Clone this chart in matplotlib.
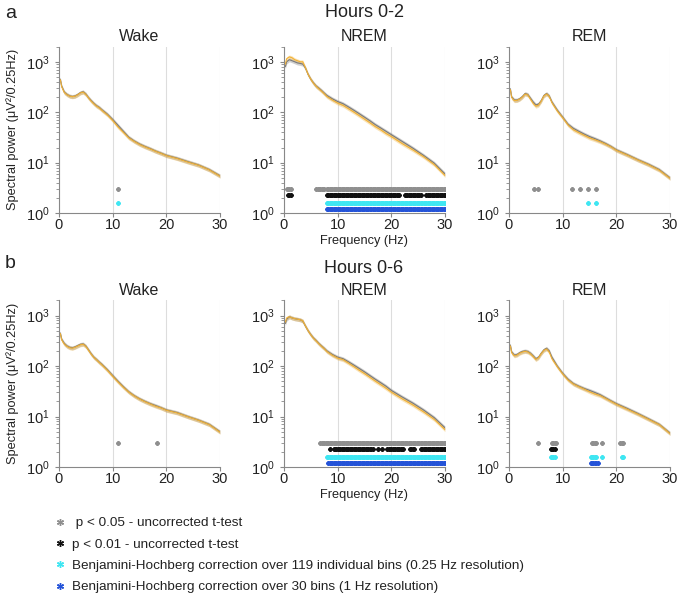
import numpy as np
import matplotlib
matplotlib.use('Agg')
import matplotlib.pyplot as plt
from matplotlib.lines import Line2D

plt.rcParams['font.family'] = ['Liberation Sans', 'DejaVu Sans']

# frequency grid (Hz) that the spectra were read at
freq = [0.25, 0.5, 1, 1.5, 2, 2.5, 3, 3.5, 4, 4.5, 5, 5.5, 6, 6.5, 7, 7.5, 8,
        9, 10, 11, 12, 13, 14, 15, 16, 17, 18, 19, 20, 22, 24, 26, 28, 30]

# Hours 0-2 spectra (gray = control, orange = treatment)
wake_a_ctl = [450, 330, 250, 225, 210, 205, 210, 225, 245, 255, 230, 195, 170, 150, 135, 125, 112,
              92, 72, 55, 42, 32, 27, 23.5, 21, 19, 17, 15.5, 14, 12.3, 10.5, 9, 7.3, 5.5]
wake_a_trt = [440, 320, 245, 222, 208, 203, 208, 222, 242, 250, 226, 192, 166, 147, 132, 122, 109,
              89, 69, 51, 40, 31, 26.5, 23, 20.6, 18.7, 16.8, 15.3, 13.8, 12.1, 10.3, 8.9, 7.2, 5.4]
nrem_a_ctl = [800, 1000, 1100, 1050, 1000, 950, 930, 900, 750, 560, 450, 380, 330, 300, 270, 240, 215,
              185, 163, 148, 128, 110, 94, 80, 68, 57, 49, 42, 36, 26.5, 19.5, 14, 9.8, 6]
nrem_a_trt = [900, 1150, 1250, 1200, 1100, 1050, 1000, 1000, 760, 560, 450, 375, 325, 292, 262, 233, 205,
              175, 152, 137, 118, 101, 86, 73, 62, 52, 45, 38, 33, 24, 18, 13.2, 9.2, 5.6]
rem_a_ctl = [290, 200, 175, 175, 185, 205, 235, 225, 190, 160, 140, 145, 170, 215, 235, 210, 160,
             110, 80, 58, 48, 42, 37, 33, 30, 27, 24, 21, 18, 14.5, 11.5, 9.3, 7.3, 5]
rem_a_trt = [280, 195, 170, 172, 182, 200, 230, 220, 182, 150, 132, 138, 166, 210, 230, 205, 155,
             106, 78, 56, 45, 39.5, 35, 31, 28.5, 26, 23.3, 20.6, 17.6, 14.2, 11.3, 9.1, 7.1, 4.9]

# Hours 0-6 spectra
wake_b_ctl = [450, 340, 280, 250, 235, 230, 240, 255, 270, 275, 250, 210, 175, 150, 135, 120, 108,
              85, 65, 50, 39, 31, 26, 22.5, 20, 18, 16.5, 15, 13.5, 12, 10, 8.5, 7, 5]
wake_b_trt = [440, 330, 272, 245, 230, 226, 236, 250, 265, 270, 246, 206, 172, 148, 133, 118, 106,
              83, 63, 48.5, 38, 30.5, 25.6, 22.2, 19.7, 17.7, 16, 14.8, 13.3, 11.8, 9.9, 8.4, 6.9, 4.9]
nrem_b_ctl = [700, 850, 950, 900, 870, 850, 830, 780, 620, 500, 420, 360, 320, 280, 250, 225, 200,
              170, 150, 140, 122, 105, 90, 77, 65, 55, 47, 40, 33, 24.5, 18.5, 13.5, 9.5, 6]
nrem_b_trt = [750, 900, 950, 900, 870, 850, 830, 790, 620, 500, 415, 355, 315, 276, 246, 221, 194,
              164, 144, 134, 115, 98, 83, 71, 60, 50.5, 43, 36.5, 30.5, 22.5, 17, 12.4, 8.8, 5.5]
rem_b_ctl = [260, 190, 165, 170, 185, 195, 200, 195, 180, 160, 140, 150, 180, 210, 225, 200, 150,
             100, 72, 55, 45, 40, 36, 33, 30, 27, 23.5, 20.5, 18, 14.5, 11.5, 9, 7, 4.7]
rem_b_trt = [250, 183, 160, 165, 180, 190, 196, 190, 175, 155, 135, 146, 176, 205, 218, 190, 140,
             97, 70, 53, 44, 39, 35, 31, 28, 26, 22.8, 20, 17.5, 14, 11.2, 8.8, 6.9, 4.6]

sem_frac = 0.09  # relative SEM for the shaded bands

# significant bins, as (first, last) frequency runs in 0.25 Hz steps
# order: p<0.05, p<0.01, BH 119 bins, BH 30 bins
sig_wake_a = [[(11, 11)], [], [(11, 11)], []]
sig_nrem_a = [[(0.5, 1.25), (6.0, 7.5), (8.0, 30.0)],
              [(0.75, 1.25), (8.0, 21.5), (22.5, 25.5), (26.5, 30.0)],
              [(8.0, 30.0)], [(8.0, 30.0)]]
sig_rem_a = [[(4.75, 4.75), (5.5, 5.5), (11.75, 11.75), (13.25, 13.25), (14.75, 14.75), (16.25, 16.25)],
             [], [(14.75, 14.75), (16.25, 16.25)], []]
sig_wake_b = [[(11, 11), (18.25, 18.25)], [], [], []]
sig_nrem_b = [[(6.75, 30.0)],
              [(8.5, 8.5), (9.25, 16.5), (17.5, 17.5), (18.25, 18.25), (19.25, 22.25),
               (23.5, 24.25), (25.5, 30.0)],
              [(8.0, 30.0)], [(8.25, 30.0)]]
sig_rem_b = [[(5.5, 5.5), (8.0, 8.75), (15.5, 16.25), (17.25, 17.25), (20.75, 21.25)],
             [(7.75, 8.5)],
             [(7.75, 8.5), (15.25, 16.25), (17.25, 17.25), (21.0, 21.25)],
             [(15.25, 16.5)]]

sig_levels = [3.0, 2.3, 1.6, 1.2]
sig_colors = ['#8f8f8f', '#111111', '#3fe6f2', '#2453d8']
sig_labels = [' p < 0.05 - uncorrected t-test',
              'p < 0.01 - uncorrected t-test',
              'Benjamini-Hochberg correction over 119 individual bins (0.25 Hz resolution)',
              'Benjamini-Hochberg correction over 30 bins (1 Hz resolution)']

col_ctl = '#7a7a7a'
col_trt = '#f2b134'

rows = [
    [('Wake', wake_a_ctl, wake_a_trt, sig_wake_a),
     ('NREM', nrem_a_ctl, nrem_a_trt, sig_nrem_a),
     ('REM', rem_a_ctl, rem_a_trt, sig_rem_a)],
    [('Wake', wake_b_ctl, wake_b_trt, sig_wake_b),
     ('NREM', nrem_b_ctl, nrem_b_trt, sig_nrem_b),
     ('REM', rem_b_ctl, rem_b_trt, sig_rem_b)],
]

fig = plt.figure(figsize=(6.81, 6.09), dpi=100)

lefts = [0.0866, 0.417, 0.7474]
bottoms = [0.650, 0.2332]
w, h = 0.2364, 0.2735

f = np.array(freq)
for r, row in enumerate(rows):
    for c, (name, ctl, trt, sig) in enumerate(row):
        ax = fig.add_axes([lefts[c], bottoms[r], w, h])
        for vals, col in [(ctl, col_ctl), (trt, col_trt)]:
            v = np.array(vals, dtype=float)
            ax.fill_between(f, v * (1 - sem_frac), v * (1 + sem_frac), color=col, alpha=0.35, lw=0)
            ax.plot(f, v, color=col, lw=0.8)
        for k, runs in enumerate(sig):
            for a, b in runs:
                xs = np.arange(a, b + 0.001, 0.25)
                ax.plot(xs, np.full(len(xs), sig_levels[k]), ls='none', marker=(6, 2, 0),
                        ms=3, mew=1.3, color=sig_colors[k])
        ax.set_yscale('log')
        ax.set_ylim(1, 2000)
        ax.set_xlim(0, 30)
        ax.set_xticks([0, 10, 20, 30])
        ax.set_yticks([1, 10, 100, 1000])
        ax.grid(axis='x', color='#dddddd', lw=0.8)
        ax.set_axisbelow(True)
        for s in ['top', 'right']:
            ax.spines[s].set_visible(False)
        for s in ['left', 'bottom']:
            ax.spines[s].set_color('#888888')
        ax.tick_params(which='both', colors='#888888', labelcolor='#222222', labelsize=10.5)
        ax.tick_params(which='major', length=3)
        ax.tick_params(which='minor', length=2)
        ax.tick_params(axis='x', pad=0.5)
        ax.set_title(name, fontsize=11.5, pad=4, color='#222222')
        if c == 0:
            ax.set_ylabel('Spectral power (μV²/0.25Hz)', fontsize=9.2, color='#222222', labelpad=5)
        if c == 1:
            ax.set_xlabel('Frequency (Hz)', fontsize=9.2, color='#222222', labelpad=2)

fig.text(5 / 681, 1 - 18 / 609, 'a', fontsize=14, color='#222222')
fig.text(5 / 681, 1 - 268 / 609, 'b', fontsize=14, color='#222222')
fig.text(364 / 681, 1 - 17 / 609, 'Hours 0-2', fontsize=13, ha='center', color='#222222')
fig.text(364 / 681, 1 - 273 / 609, 'Hours 0-6', fontsize=13, ha='center', color='#222222')

handles = [Line2D([], [], ls='none', marker=(6, 2, 0), ms=5, mew=1.0, color=col) for col in sig_colors]
fig.legend(handles, sig_labels, loc='upper left', bbox_to_anchor=(0.062, 0.171), frameon=False,
           fontsize=9.7, labelspacing=0.66, handlelength=0.8, handletextpad=0.5,
           labelcolor='#222222')

fig.savefig('out.png', dpi=100)
